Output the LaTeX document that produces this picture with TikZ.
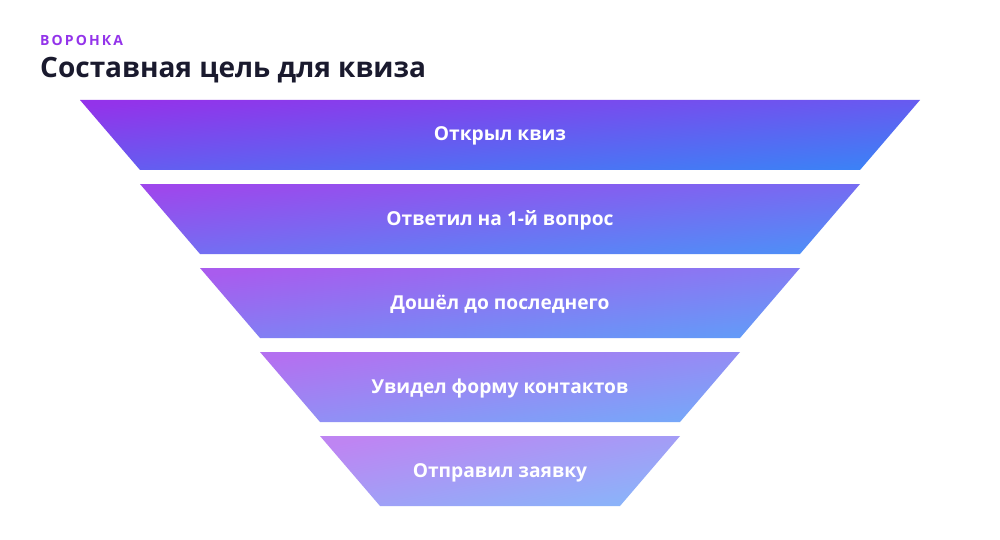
\documentclass[tikz,border=0pt]{standalone}
\usepackage{fontspec}
\setmainfont{Open Sans}
\definecolor{purp}{HTML}{9333EA}
\definecolor{blu}{HTML}{3B82F6}
\definecolor{ink}{HTML}{1A1A2E}
\begin{document}
\begin{tikzpicture}[x=1pt,y=-1pt,
  lbl/.style={text=white,font=\fontsize{19.2}{21}\selectfont\bfseries,anchor=base,inner sep=0pt},
  kicker/.style={text=purp,font=\fontsize{14}{16}\selectfont\bfseries,anchor=base west,inner sep=0pt},
  heading/.style={text=ink,font=\fontsize{28}{32}\selectfont\bfseries,anchor=base west,inner sep=0pt}]
\useasboundingbox (0,0) rectangle (1000,540);
\fill[white] (0,0) rectangle (1000,540);
\node[kicker] (kick) at (40,46) {\addfontfeatures{LetterSpace=15}ВОРОНКА};
\node[heading] (title) at (40,78) {Составная цель для квиза};
\foreach \k/\t/\o in {0/Открыл квиз/100,1/Ответил на 1-й вопрос/90,2/Дошёл до последнего/80,3/Увидел форму контактов/70,4/Отправил заявку/60}{
  \pgfmathsetmacro{\ya}{100+84*\k}
  \pgfmathsetmacro{\yb}{170+84*\k}
  \pgfmathsetmacro{\xa}{80+60*\k}
  \pgfmathsetmacro{\xb}{920-60*\k}
  \pgfmathsetmacro{\xc}{140+60*\k}
  \pgfmathsetmacro{\xd}{860-60*\k}
  \pgfmathsetmacro{\ang}{atan(70/(840-120*\k))}
  \shade[top color=purp!\o!white,bottom color=blu!\o!white,shading angle=\ang]
    (\xa,\ya) -- (\xb,\ya) -- (\xd,\yb) -- (\xc,\yb) -- cycle;
  \node[lbl] (stage\k) at (500,{141+84*\k}) {\t};
}
\end{tikzpicture}
\end{document}
